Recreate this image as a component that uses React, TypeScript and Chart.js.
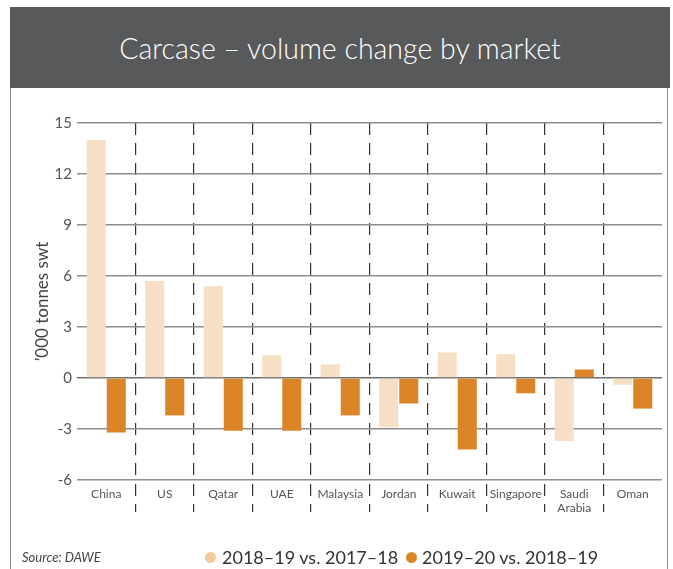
import React, { useEffect, useRef } from 'react';
import { Chart, registerables } from 'chart.js';

Chart.register(...registerables);

const categories: (string | string[])[] = ['China', 'US', 'Qatar', 'UAE', 'Malaysia', 'Jordan', 'Kuwait', 'Singapore', ['Saudi', 'Arabia'], 'Oman'];
const series2018 = [14, 5.7, 5.4, 1.35, 0.8, -2.9, 1.5, 1.4, -3.7, -0.4];
const series2019 = [-3.2, -2.2, -3.1, -3.1, -2.2, -1.5, -4.2, -0.9, 0.5, -1.8];
const seriesLabels = ['2018–19 vs. 2017–18', '2019–20 vs. 2018–19'];
const yTicks = [-6, -3, 0, 3, 6, 9, 12, 15];

const LIGHT = '#f7dfc6';
const LIGHT_DOT = '#f3cb9c';
const DARK = '#dc8528';
const FONT = 'Lato, "Open Sans", sans-serif';

export default function App() {
  const ref = useRef<HTMLCanvasElement | null>(null);

  useEffect(() => {
    if (!ref.current) return;
    const chart = new Chart(ref.current, {
      type: 'bar',
      data: {
        labels: categories as any,
        datasets: [
          { label: seriesLabels[0], data: series2018, backgroundColor: LIGHT, barPercentage: 0.95, categoryPercentage: 0.685 },
          { label: seriesLabels[1], data: series2019, backgroundColor: DARK, barPercentage: 0.95, categoryPercentage: 0.685 },
        ],
      },
      options: {
        responsive: false,
        animation: false,
        layout: { padding: { left: 20, right: 11, top: 123, bottom: 49 } },
        plugins: { legend: { display: false }, tooltip: { enabled: false } },
        scales: {
          x: {
            grid: {
              offset: true,
              color: (ctx: any) => (ctx.type !== 'tick' || ctx.index === 0 ? 'rgba(0,0,0,0)' : '#333'),
              lineWidth: 1.2,
              drawTicks: true,
              tickLength: 32,
              tickWidth: 1.2,
              tickColor: (ctx: any) => (ctx.type !== 'tick' || ctx.index === 0 ? 'rgba(0,0,0,0)' : '#333'),
              tickBorderDash: [12, 8],
              tickBorderDashOffset: 16,
            },
            border: { display: false, dash: [12, 8] },
            ticks: {
              color: '#555',
              font: { family: FONT, size: 12 },
              padding: -25,
              maxRotation: 0,
              autoSkip: false,
            },
            afterFit: (s: any) => {
              s.height = 40;
            },
          },
          y: {
            min: -6,
            max: 15,
            afterBuildTicks: (s: any) => {
              s.ticks = yTicks.map((v) => ({ value: v }));
            },
            grid: {
              drawTicks: false,
              color: (ctx: any) => (ctx.tick && ctx.tick.value === 0 ? '#6e6e6e' : '#8e8e8e'),
              lineWidth: 1.6,
            },
            border: { display: false },
            ticks: {
              color: '#555',
              font: { family: FONT, size: 15 },
              padding: 5,
            },
            title: {
              display: true,
              text: '’000 tonnes swt',
              color: '#444',
              font: { family: FONT, size: 17 },
              padding: { top: 12, bottom: 0 },
            },
            afterFit: (s: any) => {
              s.width = 57;
            },
          },
        },
      },
    });
    return () => chart.destroy();
  }, []);

  return (
    <div style={{ position: 'fixed', left: 0, top: 0, width: 673, height: 569, background: '#fff', overflow: 'hidden', fontFamily: FONT }}>
      <div style={{ position: 'absolute', left: 10, top: 7, width: 658, height: 620, border: '1.5px solid #8f8f8f', boxSizing: 'border-box' as any }} />
      <div
        style={{
          position: 'absolute',
          left: 10,
          top: 7,
          width: 660,
          height: 81,
          background: '#58595b',
          color: '#fff',
          fontSize: 28.5,
          fontWeight: 300,
          display: 'flex',
          alignItems: 'center',
          justifyContent: 'center',
        }}
      >
        Carcase – volume change by market
      </div>
      <canvas ref={ref} width={673} height={569} style={{ position: 'absolute', left: 0, top: 0, width: 673, height: 569 }} />
      <div style={{ position: 'absolute', left: 22, top: 547, fontSize: 13, fontStyle: 'italic', color: '#444', lineHeight: '20px' }}>Source: DAWE</div>
      <div style={{ position: 'absolute', left: 205, top: 545, display: 'flex', alignItems: 'center', height: 24, color: '#333', fontSize: 18 }}>
        <span style={{ width: 11, height: 11, borderRadius: '50%', background: LIGHT_DOT, marginRight: 6, display: 'inline-block' }} />
        <span>{seriesLabels[0]}</span>
      </div>
      <div style={{ position: 'absolute', left: 406, top: 545, display: 'flex', alignItems: 'center', height: 24, color: '#333', fontSize: 18 }}>
        <span style={{ width: 11, height: 11, borderRadius: '50%', background: DARK, marginRight: 5, display: 'inline-block' }} />
        <span>{seriesLabels[1]}</span>
      </div>
    </div>
  );
}
